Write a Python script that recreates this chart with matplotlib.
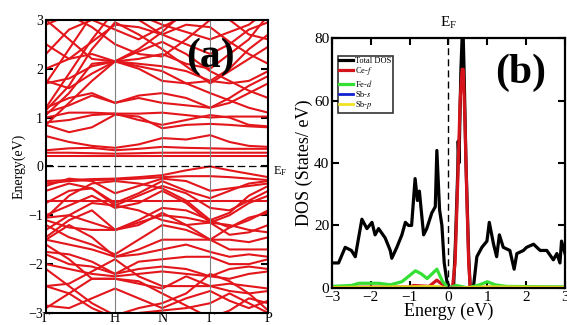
import numpy as np
import matplotlib
matplotlib.use("Agg")
import matplotlib.pyplot as plt

plt.rcParams['font.family'] = ['Liberation Serif', 'DejaVu Serif']
plt.rcParams['mathtext.fontset'] = 'stix'

# ---- band structure data (a) ----
kpts = [0, 0.104, 0.207, 0.311, 0.417, 0.523, 0.631, 0.739, 0.826, 0.913, 1.0]
klabels = ['Γ', 'H', 'N', 'Γ', 'P']
kticks = [0, 0.311, 0.523, 0.739, 1.0]

bands = [
    # conduction
    [0.22, 0.22, 0.22, 0.22, 0.22, 0.22, 0.22, 0.22, 0.22, 0.22, 0.22],
    [0.28, 0.28, 0.27, 0.26, 0.27, 0.28, 0.28, 0.28, 0.28, 0.28, 0.28],
    [0.33, 0.37, 0.38, 0.33, 0.36, 0.40, 0.38, 0.37, 0.36, 0.36, 0.36],
    [0.62, 0.50, 0.42, 0.38, 0.45, 0.58, 0.55, 0.64, 0.50, 0.42, 0.40],
    [0.85, 0.70, 0.80, 1.06, 1.02, 0.78, 0.85, 0.87, 0.85, 0.82, 0.80],
    [1.00, 1.10, 1.10, 1.08, 1.08, 1.10, 1.05, 1.00, 1.02, 1.02, 1.02],
    [1.10, 1.25, 1.45, 1.30, 1.40, 1.30, 1.25, 1.20, 1.30, 1.50, 1.70],
    [1.20, 1.40, 1.50, 1.30, 1.45, 1.50, 1.40, 1.20, 1.40, 1.65, 1.85],
    [1.70, 1.80, 2.05, 2.15, 2.00, 1.75, 1.70, 1.75, 1.70, 1.75, 1.95],
    [1.75, 1.60, 1.90, 2.15, 2.10, 2.05, 1.95, 1.75, 2.00, 2.40, 2.70],
    [2.00, 2.20, 2.30, 2.15, 2.20, 2.30, 2.10, 2.00, 2.30, 2.60, 3.10],
    [0.85, 1.30, 1.75, 2.15, 2.35, 2.55, 2.30, 1.95, 1.75, 1.55, 1.40],
    [1.20, 1.90, 2.60, 3.20, 3.00, 2.70, 2.50, 2.30, 2.50, 2.80, 2.95],
    [1.70, 2.40, 3.10, 3.30, 3.10, 2.90, 2.75, 2.60, 2.75, 2.90, 3.20],
    [2.30, 2.80, 3.00, 2.80, 2.60, 2.85, 3.10, 3.30, 3.20, 3.10, 3.00],
    [2.90, 3.10, 2.85, 2.50, 2.30, 2.25, 2.60, 3.00, 3.20, 3.30, 3.30],
    [1.05, 1.50, 2.10, 2.15, 2.05, 1.95, 1.70, 1.50, 1.35, 1.20, 1.10],
    [1.15, 1.65, 2.40, 2.95, 2.70, 2.40, 2.05, 1.70, 1.95, 2.20, 2.45],
    [2.50, 2.20, 2.55, 2.90, 2.85, 2.70, 2.90, 2.85, 2.55, 2.30, 2.10],
    [3.00, 2.60, 2.20, 2.15, 2.40, 2.75, 3.20, 3.30, 3.00, 2.70, 2.60],
    [0.90, 0.95, 1.05, 1.08, 0.95, 0.85, 0.95, 1.05, 1.00, 0.85, 0.82],
    # valence
    [-0.30, -0.28, -0.26, -0.25, -0.22, -0.18, -0.08, 0.00, -0.08, -0.15, -0.22],
    [-0.35, -0.30, -0.28, -0.27, -0.25, -0.22, -0.20, -0.20, -0.22, -0.25, -0.28],
    [-0.40, -0.25, -0.30, -0.55, -0.40, -0.25, -0.30, -0.50, -0.45, -0.40, -0.35],
    [-0.50, -0.35, -0.45, -0.75, -0.55, -0.30, -0.50, -0.65, -0.50, -0.35, -0.30],
    [-0.70, -0.70, -0.70, -0.70, -0.70, -0.70, -0.70, -0.70, -0.70, -0.70, -0.70],
    [-0.75, -0.50, -0.45, -0.80, -0.60, -0.40, -0.55, -0.85, -0.90, -0.70, -0.50],
    [-1.00, -0.80, -0.60, -0.85, -0.75, -0.50, -0.75, -1.15, -1.00, -0.75, -0.60],
    [-1.05, -1.00, -1.15, -1.30, -1.10, -0.85, -0.90, -1.10, -1.25, -1.10, -0.90],
    [-1.10, -1.25, -1.30, -1.30, -1.15, -1.00, -1.05, -1.15, -1.40, -1.35, -1.20],
    [-1.30, -1.00, -0.75, -0.80, -0.90, -1.10, -1.20, -1.15, -1.20, -1.30, -1.35],
    [-1.20, -1.45, -1.60, -1.80, -1.50, -1.20, -1.30, -1.50, -1.50, -1.55, -1.45],
    [-1.50, -1.60, -1.70, -1.85, -1.70, -1.50, -1.50, -1.50, -1.70, -1.70, -1.70],
    [-1.50, -1.20, -1.45, -1.85, -1.80, -1.70, -1.60, -1.75, -1.85, -1.80, -1.85],
    [-1.75, -1.80, -1.95, -2.20, -1.95, -1.90, -1.85, -1.85, -2.00, -2.00, -1.90],
    [-1.80, -2.00, -2.05, -2.20, -2.10, -2.05, -2.10, -2.25, -2.10, -2.05, -2.10],
    [-2.00, -2.10, -2.20, -2.25, -2.20, -2.15, -2.20, -2.25, -2.30, -2.20, -2.15],
    [-2.45, -2.40, -2.15, -1.90, -2.25, -2.45, -2.45, -2.45, -2.55, -2.60, -2.55],
    [-2.45, -2.60, -2.30, -2.30, -2.40, -2.50, -2.25, -2.45, -2.40, -2.45, -2.50],
    [-2.85, -2.90, -2.70, -2.50, -2.70, -2.90, -2.70, -2.55, -2.75, -2.90, -2.75],
    [-2.90, -2.60, -2.90, -3.10, -3.00, -2.95, -2.90, -2.80, -2.60, -2.80, -3.00],
    [-1.05, -0.60, -0.35, -0.30, -0.35, -0.45, -0.70, -1.10, -0.95, -0.60, -0.40],
    [-1.45, -1.10, -0.90, -1.30, -1.20, -0.95, -1.20, -1.50, -1.25, -1.05, -0.95],
    [-1.60, -1.90, -2.30, -2.30, -2.35, -2.60, -2.85, -3.10, -2.95, -2.70, -2.80],
    [-2.10, -2.45, -2.80, -3.05, -2.90, -2.80, -2.60, -2.20, -2.35, -2.60, -2.95],
]

# ---- DOS data (b) ----
e_tot = [-3.0, -2.83, -2.66, -2.5, -2.4, -2.23, -2.1, -1.97, -1.89, -1.8, -1.63, -1.5,
         -1.46, -1.33, -1.2, -1.11, -1.03, -0.95, -0.86, -0.8, -0.75, -0.64, -0.56, -0.43,
         -0.34, -0.3, -0.23, -0.17, -0.11, -0.04, 0.03, 0.13, 0.18, 0.24, 0.25, 0.27,
         0.32, 0.35, 0.38, 0.4, 0.45, 0.52, 0.56, 0.64, 0.73, 0.86, 0.99, 1.05, 1.16,
         1.24, 1.31, 1.41, 1.58, 1.69, 1.76, 1.93, 2.01, 2.19, 2.36, 2.53, 2.7, 2.79,
         2.87, 2.91, 3.0]
dos_tot = [8, 8, 13, 12, 10, 22, 19, 21, 17, 19, 16, 12,
           9.5, 13, 17, 21, 20, 20, 35, 28, 31, 17, 19, 24,
           26, 44, 25, 20, 8, 2, 0, 0, 15, 38, 47, 40,
           70, 80, 80, 70, 40, 10, 0, 0, 10, 13, 15, 21, 14,
           10, 17, 13, 12, 6, 11, 12, 13, 14, 12, 12, 9, 11,
           8, 15, 11]

e_cef = [-3.0, -1.0, -0.9, -0.5, -0.3, -0.2, -0.05, 0.1, 0.17, 0.24, 0.3, 0.35,
         0.38, 0.42, 0.47, 0.52, 0.56, 0.7, 3.0]
dos_cef = [0.2, 0.3, 0.8, 0.5, 2.5, 1.5, 0.3, 0, 8, 35, 60, 70,
           70, 55, 30, 8, 0, 0.2, 0.2]

e_fed = [-3.0, -2.5, -2.3, -1.8, -1.5, -1.2, -0.85, -0.7, -0.55, -0.3, -0.15, 0.0,
         0.2, 0.5, 0.8, 1.0, 1.2, 1.5, 3.0]
dos_fed = [0.5, 0.8, 1.5, 1.5, 1.0, 2.0, 5.5, 4.5, 3.0, 6.0, 2.0, 0.0,
           0.8, 0.0, 1.0, 2.0, 1.0, 0.5, 0.3]

e_sb = [-3.0, -1.0, -0.3, 0.0, 1.0, 3.0]
dos_sbs = [0.1, 0.2, 0.3, 0.0, 0.2, 0.1]
dos_sbp = [0.2, 0.4, 0.5, 0.0, 0.4, 0.2]

fig = plt.figure(figsize=(5.67, 3.25), dpi=100)

# ---------- panel (a) ----------
ax1 = fig.add_axes([0.081, 0.037, 0.392, 0.902])
for b in bands:
    ax1.plot(kpts, b, color='#e3161b', lw=1.5)
for k in kticks[1:-1]:
    ax1.axvline(k, color='gray', lw=0.8)
ax1.axhline(0, color='black', lw=0.9, ls=(0, (6, 3)))
ax1.set_xlim(0, 1)
ax1.set_ylim(-3, 3)
ax1.set_xticks(kticks)
ax1.set_xticklabels(klabels, fontsize=10)
ax1.set_yticks(range(-3, 4))
ax1.set_ylabel('Energy(eV)', fontsize=10, labelpad=2)
ax1.tick_params(axis='y', direction='in', length=5, width=1.5, right=True, labelsize=10, pad=2)
ax1.tick_params(axis='x', length=0, pad=-1)
for s in ax1.spines.values():
    s.set_linewidth(1.5)
ax1.text(0.74, 0.875, '(a)', transform=ax1.transAxes, fontsize=30, fontweight='bold',
         ha='center', va='center')
ax1.text(1.02, 0.485, r'E$_\mathregular{F}$', transform=ax1.transAxes, fontsize=9,
         ha='left', va='center')

# ---------- panel (b) ----------
ax2 = fig.add_axes([0.5855, 0.114, 0.411, 0.769])
ax2.plot(e_tot, dos_tot, color='black', lw=2.3, label='Total DOS')
ax2.plot(e_cef, dos_cef, color='#d4141a', lw=2.3, label='Ce-$f$')
ax2.plot(e_fed, dos_fed, color='#33e033', lw=2.3, label='Fe-$d$')
ax2.plot(e_sb, dos_sbs, color='#1020d0', lw=2, label='Sb-$s$')
ax2.plot(e_sb, dos_sbp, color='#f0e020', lw=2, label='Sb-$p$')
ax2.axvline(0, color='black', lw=1, ls=(0, (5, 3)))
ax2.set_xlim(-3, 3)
ax2.set_ylim(0, 80)
ax2.set_xticks(range(-3, 4))
ax2.set_yticks(range(0, 81, 20))
ax2.tick_params(direction='in', length=5, width=1.5, top=True, right=True,
                labelsize=11, pad=2)
for s in ax2.spines.values():
    s.set_linewidth(1.6)
ax2.set_xlabel('Energy (eV)', fontsize=13, labelpad=-1)
ax2.set_ylabel('DOS (States/ eV)', fontsize=13, labelpad=1)
ax2.text(0.81, 0.86, '(b)', transform=ax2.transAxes, fontsize=30, fontweight='bold',
         ha='center', va='center')
ax2.text(0.5, 1.03, r'E$_\mathregular{F}$', transform=ax2.transAxes, fontsize=11,
         ha='center', va='bottom')
leg = ax2.legend(loc='upper left', bbox_to_anchor=(0.025, 0.93), fontsize=6,
                 frameon=True, fancybox=False, handlelength=1.6, handletextpad=0.3,
                 labelspacing=0.02, borderpad=0.2, borderaxespad=0)
leg.get_frame().set_edgecolor('black')
leg.get_frame().set_linewidth(1.2)

fig.savefig('out.png', dpi=100)
